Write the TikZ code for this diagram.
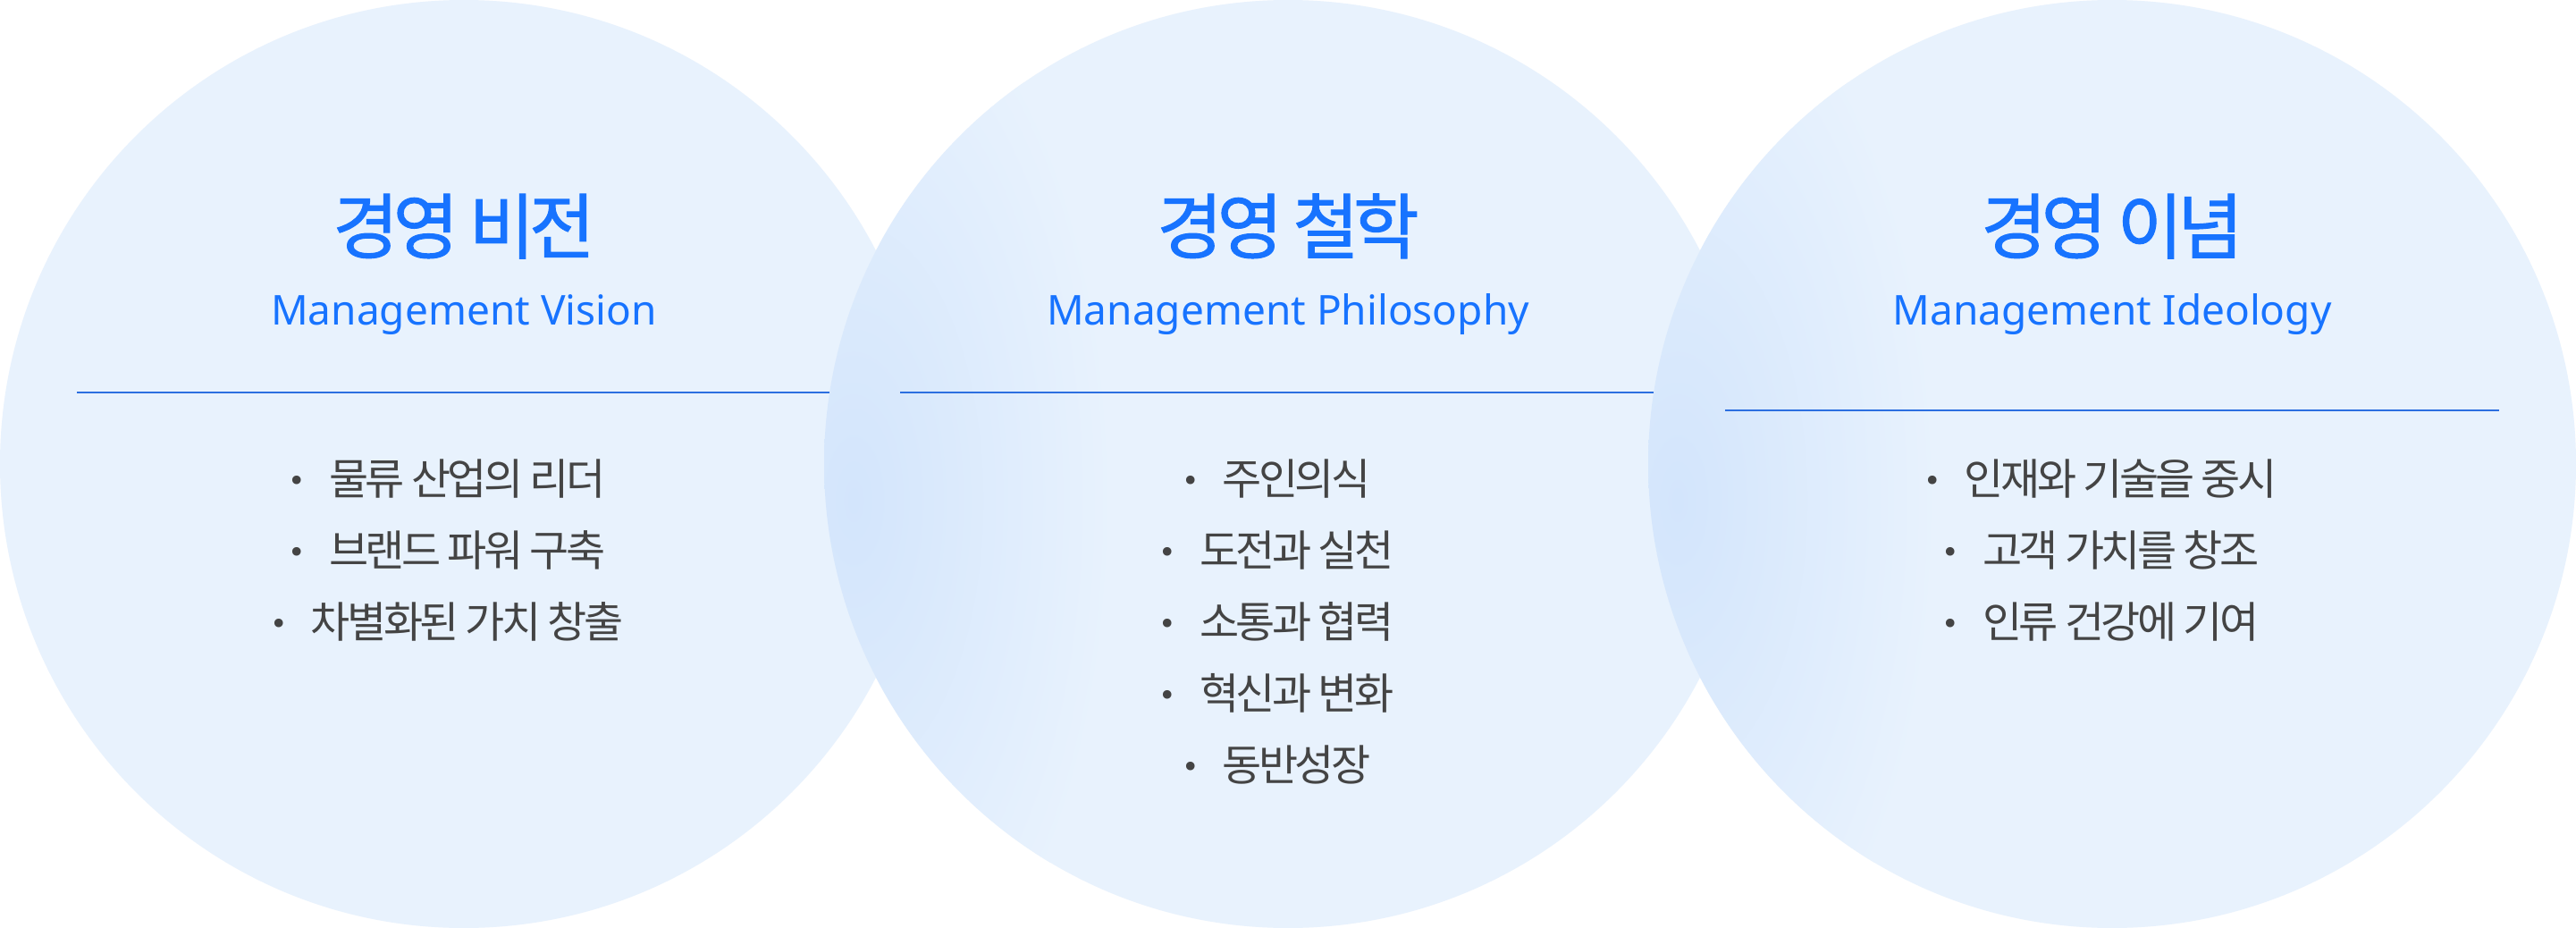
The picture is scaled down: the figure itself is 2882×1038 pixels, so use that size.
\documentclass[tikz,border=0pt]{standalone}
\usepackage{fontspec}
\newfontfamily\krfont[LetterSpace=-7.5]{Noto Sans CJK KR}
\newfontfamily\krtitle[LetterSpace=-8,FakeBold=1.2]{Noto Sans CJK KR}
\newfontfamily\enfont{Noto Sans}
\newfontfamily\dvfont{DejaVu Sans}
\definecolor{circfill}{HTML}{E8F2FD}
\definecolor{glowcol}{HTML}{D3E5FC}
\definecolor{ttlblue}{HTML}{1773FF}
\definecolor{ruleblue}{HTML}{2C6FE0}
\definecolor{bodygray}{HTML}{444444}
\newcommand{\bul}{{\dvfont\fontsize{33}{33}\selectfont\raisebox{4pt}{•}}\hspace{26pt}}
\tikzset{
  ttl/.style={anchor=base, inner sep=0pt, text=ttlblue, font=\krtitle\fontsize{80}{80}\selectfont},
  subttl/.style={anchor=base, inner sep=0pt, text=ttlblue, font=\enfont\fontsize{46}{46}\selectfont},
  item/.style={anchor=base, inner sep=0pt, text=bodygray, font=\krfont\fontsize{48}{48}\selectfont},
  divider/.style={draw=ruleblue, line width=2pt}
}
\begin{document}
\begin{tikzpicture}[x=1pt,y=-1pt]
\useasboundingbox (0,0) rectangle (2882,1038);
\fill[white] (0,0) rectangle (2882,1038);
% circle 1
\fill[circfill] (519,519) circle (519pt);
\draw[divider] (86,439) -- (952,439);
\node[ttl] (t1) at (519,283) {경영 비전};
\node[subttl] (s1) at (519,363) {Management Vision};
\node[item] (a1) at (500,553) {\bul 물류 산업의 리더};
\node[item] (a2) at (500,633) {\bul 브랜드 파워 구축};
\node[item] (a3) at (500,713) {\bul 차별화된 가치 창출};
% circle 2
\fill[circfill] (1441,519) circle (519pt);
\begin{scope}
\clip (1441,519) circle (519pt);
\shade[inner color=glowcol, outer color=circfill] (955,560) ellipse (290pt and 620pt);
\end{scope}
\draw[divider] (1007,439) -- (1875,439);
\node[ttl] (t2) at (1441,283) {경영 철학};
\node[subttl] (s2) at (1441,363) {Management Philosophy};
\node[item] (b1) at (1428,553) {\bul 주인의식};
\node[item] (b2) at (1428,633) {\bul 도전과 실천};
\node[item] (b3) at (1428,713) {\bul 소통과 협력};
\node[item] (b4) at (1428,793) {\bul 혁신과 변화};
\node[item] (b5) at (1428,873) {\bul 동반성장};
% circle 3
\fill[circfill] (2363,519) circle (519pt);
\begin{scope}
\clip (2363,519) circle (519pt);
\shade[inner color=glowcol, outer color=circfill] (1877,560) ellipse (290pt and 620pt);
\end{scope}
\draw[divider] (1930,459) -- (2796,459);
\node[ttl] (t3) at (2363,283) {경영 이념};
\node[subttl] (s3) at (2363,363) {Management Ideology};
\node[item] (c1) at (2350,553) {\bul 인재와 기술을 중시};
\node[item] (c2) at (2350,633) {\bul 고객 가치를 창조};
\node[item] (c3) at (2350,713) {\bul 인류 건강에 기여};
\end{tikzpicture}
\end{document}
